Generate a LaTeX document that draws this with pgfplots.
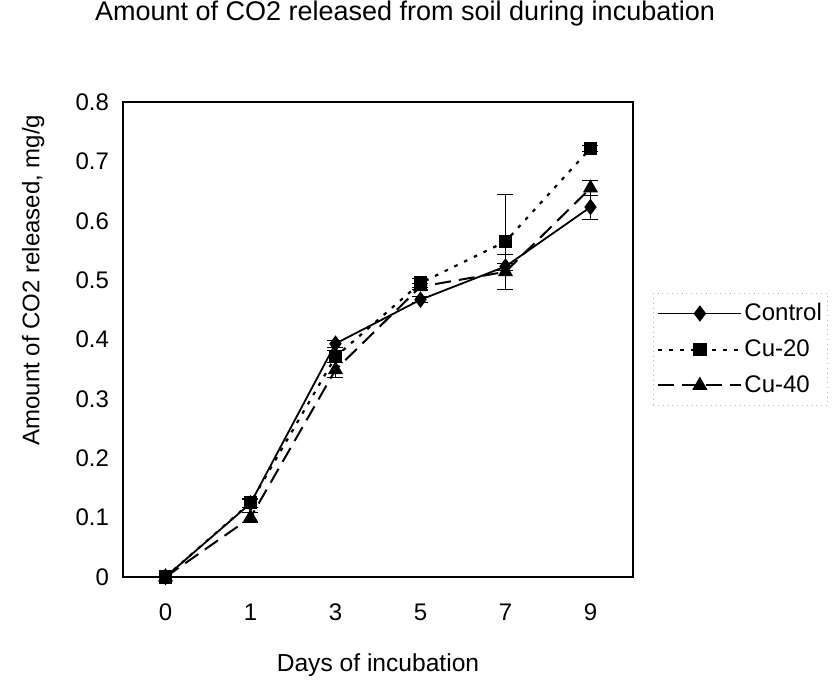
\documentclass[border=0pt]{standalone}
\usepackage{fontspec}
\setmainfont{Liberation Sans}
\usepackage{pgfplots}
\pgfplotsset{compat=1.18}

\begin{document}
\begin{tikzpicture}
% page frame: 834 x 680 px at 0.5pt per px, origin at the plot box corner
\path[use as bounding box] (-61.5pt,-51.5pt) rectangle (355.5pt,288.5pt);
\begin{axis}[
  at={(0,0)}, anchor=south west,
  scale only axis, width=255pt, height=237.5pt,
  xmin=-0.5, xmax=5.5, ymin=0, ymax=0.8,
  xtick={0,1,2,3,4,5}, xticklabels={0,1,3,5,7,9},
  ytick={0,0.1,0.2,0.3,0.4,0.5,0.6,0.7,0.8},
  /pgf/number format/fixed, /pgf/number format/precision=1,
  /pgf/number format/assume math mode=true,
  major tick length=0pt,
  tick label style={font=\fontsize{12}{14}\selectfont},
  xticklabel style={yshift=-10pt},
  yticklabel style={xshift=-3.5pt},
  axis line style={black, line width=0.6pt},
  title={Amount of CO2 released from soil during incubation},
  title style={at={(0.553,1.162)}, anchor=center, font=\fontsize{13.5}{16}\selectfont},
  xlabel={Days of incubation},
  xlabel style={at={(0.5,-0.185)}, anchor=center, font=\fontsize{12.3}{14}\selectfont},
  ylabel={Amount of CO2 released, mg/g},
  ylabel style={at={(-0.176,0.625)}, anchor=center, font=\fontsize{12}{14}\selectfont},
  legend style={at={(1.039,0.598)}, anchor=north west, draw=gray!60, dotted,
                font=\fontsize{12}{14}\selectfont, inner xsep=2pt, inner ysep=4pt,
                row sep=6pt, nodes={inner sep=1pt}},
  legend cell align=left,
  legend image code/.code={\draw[mark repeat=2,mark phase=2]
    plot coordinates {(0pt,0pt)(20.75pt,0pt)(41.5pt,0pt)};},
  error bars/error bar style={solid, black, line width=0.6pt},
  error bars/error mark options={rotate=90, mark size=4pt, solid, black},
]
\addplot[black, solid, line width=0.9pt, mark=diamond*, mark size=3.4pt,
  mark options={solid, fill=black},
  error bars/.cd, y dir=both, y explicit]
  coordinates {(0,0) +- (0,0) (1,0.124) +- (0,0.006) (2,0.393) +- (0,0.006)
               (3,0.467) +- (0,0.005) (4,0.523) +- (0,0.006) (5,0.623) +- (0,0.02)};
\addplot[black, line width=1.1pt, dash pattern=on 1.8pt off 3.6pt, mark=square*, mark size=2.8pt,
  mark options={solid, fill=black},
  error bars/.cd, y dir=both, y explicit]
  coordinates {(0,0) +- (0,0) (1,0.125) +- (0,0.008) (2,0.371) +- (0,0.01)
               (3,0.495) +- (0,0.008) (4,0.565) +- (0,0.08) (5,0.722) +- (0,0.005)};
\addplot[black, line width=1pt, dash pattern=on 8pt off 4pt, mark=triangle*, mark size=3.4pt,
  mark options={solid, fill=black},
  error bars/.cd, y dir=both, y explicit]
  coordinates {(0,0) +- (0,0) (1,0.100) +- (0,0.008) (2,0.349) +- (0,0.012)
               (3,0.489) +- (0,0.005) (4,0.514) +- (0,0.03) (5,0.655) +- (0,0.013)};
\legend{Control, Cu-20, Cu-40}
\end{axis}
\end{tikzpicture}
\end{document}
